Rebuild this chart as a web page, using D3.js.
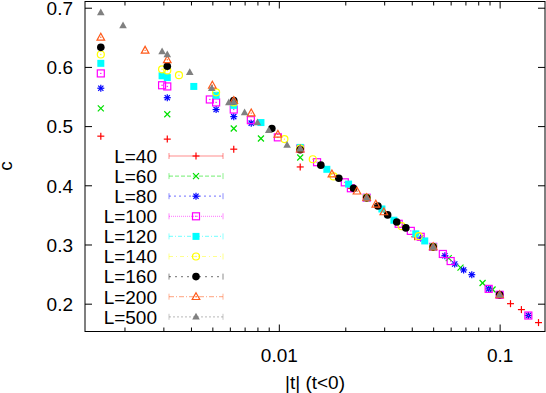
<!DOCTYPE html>
<html><head><meta charset="utf-8">
<script src="https://cdn.jsdelivr.net/npm/d3@7"></script>
<style>body{margin:0;background:#fff}svg{display:block}text{font-family:"Liberation Sans",Arial,sans-serif}</style>
</head><body>
<svg id="c" width="546" height="393"></svg>
<script>
const seriesNames = ["L=40","L=60","L=80","L=100","L=120","L=140","L=160","L=200","L=500"];
const L40 = [[0.0015625,0.483],[0.003125,0.478],[0.00625,0.461],[0.0125,0.431],[0.0212,0.395],[0.025,0.378],[0.0413,0.313],[0.05,0.296],[0.1,0.215],[0.112,0.200],[0.1255,0.190],[0.1349,0.180],[0.150,0.168]];
const L60 = [[0.0015625,0.530],[0.003125,0.520],[0.00625,0.496],[0.0083,0.479],[0.0125,0.447],[0.025,0.379],[0.05,0.296],[0.0588,0.277],[0.0665,0.261],[0.0837,0.235],[0.0929,0.224],[0.1,0.215]];
const L80 = [[0.0015625,0.564],[0.003125,0.548],[0.0052,0.528],[0.00625,0.516],[0.0075,0.505],[0.0125,0.462],[0.025,0.379],[0.0439,0.311],[0.05,0.296],[0.0565,0.281],[0.0626,0.267],[0.0687,0.257],[0.0748,0.249],[0.0892,0.225],[0.1,0.215],[0.1349,0.180]];
const L100 = [[0.0015625,0.589],[0.00296,0.569],[0.003125,0.567],[0.00487,0.545],[0.0052,0.540],[0.00625,0.528],[0.00747,0.510],[0.0099,0.481],[0.0125,0.462],[0.0149,0.439],[0.0199,0.405],[0.0212,0.395],[0.025,0.379],[0.0349,0.335],[0.0396,0.323],[0.0439,0.313],[0.05,0.296],[0.0553,0.284],[0.0600,0.272],[0.0892,0.225],[0.1,0.215],[0.1349,0.180]];
const L120 = [[0.0015625,0.606],[0.00296,0.585],[0.003125,0.582],[0.00412,0.567],[0.0052,0.552],[0.00625,0.535],[0.0083,0.506],[0.0125,0.464],[0.0165,0.427],[0.0207,0.402],[0.025,0.379],[0.0293,0.360],[0.0332,0.341],[0.0417,0.318],[0.0458,0.306],[0.05,0.296]];
const L140 = [[0.0015625,0.621],[0.00296,0.596],[0.003125,0.594],[0.00353,0.586],[0.0052,0.557],[0.00625,0.540],[0.0106,0.478],[0.0125,0.462],[0.01425,0.444],[0.0177,0.415],[0.025,0.379],[0.0360,0.331],[0.0430,0.314],[0.05,0.296]];
const L160 = [[0.0015625,0.633],[0.003125,0.601],[0.00625,0.543],[0.0093,0.496],[0.0125,0.460],[0.0155,0.434],[0.0187,0.412],[0.0218,0.395],[0.025,0.379],[0.0281,0.365],[0.0311,0.350],[0.0342,0.338],[0.0376,0.328],[0.05,0.296],[0.1,0.215]];
const L200 = [[0.0015625,0.650],[0.00248,0.628],[0.003125,0.612],[0.0050,0.569],[0.00625,0.543],[0.0075,0.522],[0.0099,0.486],[0.0125,0.461],[0.0174,0.419],[0.0226,0.390],[0.025,0.379],[0.0275,0.368],[0.0299,0.355],[0.05,0.296],[0.1,0.215]];
const L500 = [[0.0015625,0.692],[0.00197,0.670],[0.00296,0.626],[0.003125,0.621],[0.00395,0.591],[0.00497,0.564],[0.00594,0.540],[0.00625,0.541],[0.0070,0.523],[0.0080,0.506],[0.0090,0.493],[0.0109,0.468],[0.0125,0.462],[0.025,0.379],[0.05,0.296],[0.1,0.215]];
const seriesData = [L40,L60,L80,L100,L120,L140,L160,L200,L500];
const colors = ["#ff0000","#00e000","#0000ff","#ff00ff","#00ffff","#ffff00","#000000","#ff5a1a","#808080"];
const shapes = ["plus","cross","star","sqOpen","sqFill","circOpen","circFill","triOpen","triFill"];
const dashes = [null,"4,2","2,3","1,1","4,2,1,2","4,3,1,3","2,4","5,2,1,2","2,2"];
const xTicks = [0.01, 0.1];
const xTickLabels = ["0.01","0.1"];
const yTicks = [0.2,0.3,0.4,0.5,0.6,0.7];
const xLabel = "|t| (t<0)", yLabel = "c";

const svg = d3.select("#c");
const m = {l:85, r:545, t:1.5, b:331.5};
const x = d3.scaleLog().domain([0.001325, 0.1605]).range([m.l, m.r]);
const y = d3.scaleLinear().domain([0.153, 0.7105]).range([m.b, m.t]);

const g = svg.append("g");
const minor = [];
for (let d=0.001; d<1; d*=10) for (let k=2;k<=9;k++){const v=k*d; if(v>x.domain()[0]&&v<x.domain()[1]) minor.push(v);}
const axB = d3.axisBottom(x).tickValues(xTicks).tickSize(-7).tickSizeOuter(0).tickFormat((d,i)=>xTickLabels[i]);
const axBm = d3.axisBottom(x).tickValues(minor).tickSize(-4).tickSizeOuter(0).tickFormat("");
const axT = d3.axisTop(x).tickValues(xTicks).tickSize(-7).tickSizeOuter(0).tickFormat("");
const axTm = d3.axisTop(x).tickValues(minor).tickSize(-4).tickSizeOuter(0).tickFormat("");
const axL = d3.axisLeft(y).tickValues(yTicks).tickSize(-7).tickSizeOuter(0).tickFormat(d3.format(".1f"));
const axR = d3.axisRight(y).tickValues(yTicks).tickSize(-7).tickSizeOuter(0).tickFormat("");
function style(sel){sel.select(".domain").remove(); sel.selectAll("line").attr("stroke","#000"); sel.selectAll("text").attr("font-size",19).attr("fill","#000").attr("font-family","Liberation Sans, Arial, sans-serif");}
g.append("g").attr("transform",`translate(0,${m.b})`).call(axB).call(style).selectAll("text").attr("dy",null).attr("y",30);
g.append("g").attr("transform",`translate(0,${m.b})`).call(axBm).call(style);
g.append("g").attr("transform",`translate(0,${m.t})`).call(axT).call(style);
g.append("g").attr("transform",`translate(0,${m.t})`).call(axTm).call(style);
g.append("g").attr("transform",`translate(${m.l},0)`).call(axL).call(style).selectAll("text").attr("x",-12).attr("dy","0.36em");
g.append("g").attr("transform",`translate(${m.r},0)`).call(axR).call(style);
svg.append("rect").attr("x",m.l).attr("y",m.t).attr("width",m.r-m.l).attr("height",m.b-m.t).attr("fill","none").attr("stroke","#000");

svg.append("text").attr("x",(m.l+m.r)/2).attr("y",389).attr("text-anchor","middle").attr("font-size",19).text(xLabel);
svg.append("text").attr("transform","translate(12,166) rotate(-90)").attr("text-anchor","middle").attr("font-size",19).text(yLabel);

function marker(sel, shape, color, cx, cy){
  const s=3.5;
  const gg=sel.append("g").attr("transform",`translate(${cx},${cy})`);
  const ln=(x1,y1,x2,y2)=>gg.append("line").attr("x1",x1).attr("y1",y1).attr("x2",x2).attr("y2",y2).attr("stroke",color).attr("stroke-width",1.2);
  if(shape==="plus"){ln(-s,0,s,0);ln(0,-s,0,s);}
  else if(shape==="cross"){ln(-3,-3,3,3);ln(-3,3,3,-3);}
  else if(shape==="star"){ln(-s,0,s,0);ln(0,-s,0,s);ln(-2.6,-2.6,2.6,2.6);ln(-2.6,2.6,2.6,-2.6);}
  else if(shape==="sqOpen"){gg.append("rect").attr("x",-3.5).attr("y",-3.5).attr("width",7).attr("height",7).attr("fill","none").attr("stroke",color).attr("stroke-width",1.2);gg.append("rect").attr("x",-0.6).attr("y",-0.6).attr("width",1.2).attr("height",1.2).attr("fill",color);}
  else if(shape==="sqFill"){gg.append("rect").attr("x",-3.5).attr("y",-3.5).attr("width",7).attr("height",7).attr("fill",color);}
  else if(shape==="circOpen"){gg.append("circle").attr("r",3.5).attr("fill","none").attr("stroke",color).attr("stroke-width",1.2);gg.append("circle").attr("r",0.7).attr("fill",color);}
  else if(shape==="circFill"){gg.append("circle").attr("r",3.8).attr("fill",color);}
  else if(shape==="triOpen"){gg.append("path").attr("d","M0,-4L3.8,2.8L-3.8,2.8Z").attr("fill","none").attr("stroke",color).attr("stroke-width",1.2);gg.append("circle").attr("r",0.7).attr("fill",color);}
  else if(shape==="triFill"){gg.append("path").attr("d","M0,-4L3.8,2.8L-3.8,2.8Z").attr("fill",color);}
}

const pts = svg.append("g");
seriesData.forEach((data,i)=>{
  data.forEach(d=>marker(pts, shapes[i], colors[i], x(d[0]), y(d[1])));
});

const lg = svg.append("g");
seriesNames.forEach((n,i)=>{
  const yy = 156 + 20.1*i;
  lg.append("text").attr("x",157).attr("y",yy).attr("dy","0.36em").attr("text-anchor","end").attr("font-size",19).text(n);
  const c = colors[i];
  lg.append("line").attr("x1",169).attr("x2",223).attr("y1",yy).attr("y2",yy).attr("stroke",c).attr("stroke-opacity",0.45).attr("stroke-width",1.2).attr("stroke-dasharray",dashes[i]);
  [169,223].forEach(xx=>lg.append("line").attr("x1",xx).attr("x2",xx).attr("y1",yy-3).attr("y2",yy+3).attr("stroke",c).attr("stroke-opacity",0.45));
  marker(lg, shapes[i], c, 196, yy);
});
</script>
</body></html>
